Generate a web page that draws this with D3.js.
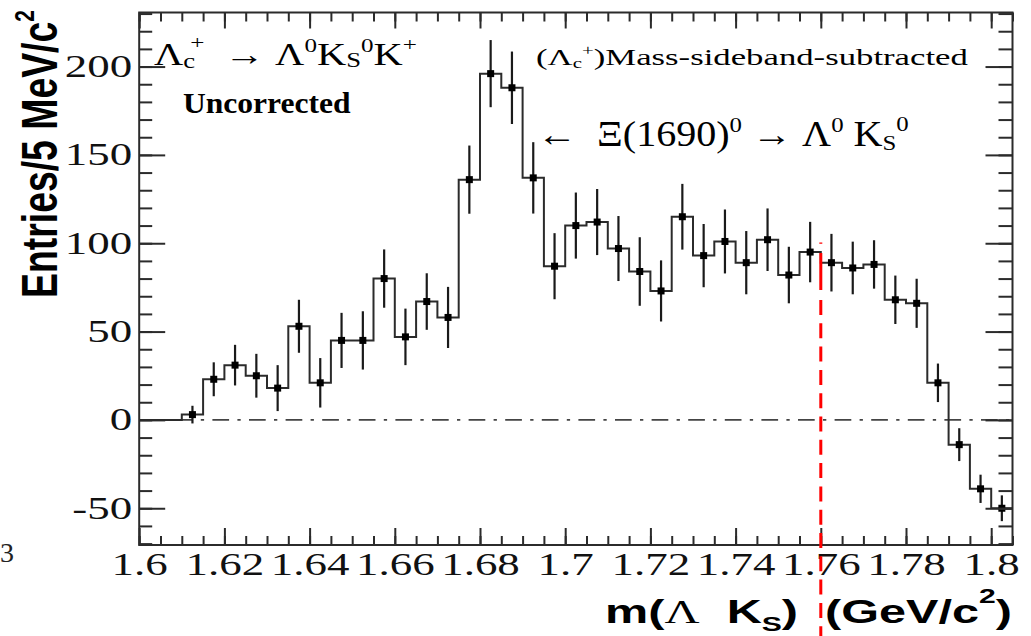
<!DOCTYPE html>
<html>
<head>
<meta charset="utf-8">
<script src="https://cdn.jsdelivr.net/npm/d3@7"></script>
<style>
  html, body { margin: 0; padding: 0; background: #fff; }
  svg { display: block; }
  text { white-space: pre; }
</style>
</head>
<body>
<svg id="chart" width="1031" height="636"></svg>
<script>
// Λc+ → Λ0 KS0 K+ : m(Λ KS) after Λc+ mass-sideband subtraction, 5 MeV/c² bins

// bin centres (GeV/c²)
const massBins = [
  1.6125, 1.6175, 1.6225, 1.6275, 1.6325, 1.6375, 1.6425, 1.6475, 1.6525, 1.6575,
  1.6625, 1.6675, 1.6725, 1.6775, 1.6825, 1.6875, 1.6925, 1.6975, 1.7025, 1.7075,
  1.7125, 1.7175, 1.7225, 1.7275, 1.7325, 1.7375, 1.7425, 1.7475, 1.7525, 1.7575,
  1.7625, 1.7675, 1.7725, 1.7775, 1.7825, 1.7875, 1.7925, 1.7975, 1.8025
];
// entries per bin
const entries = [
  3, 23, 31, 25, 18, 53, 21, 45, 45, 80,
  47, 67, 58, 136, 196, 188, 137, 87, 110, 112,
  97, 84, 73, 115, 93, 101, 89, 102, 82, 95,
  89, 86, 88, 68, 66, 21, -14, -39, -50
];
// statistical errors per bin
const entryErrors = [
  5, 9.6, 11.5, 12.4, 13, 15, 14, 15.6, 16.5, 16.5,
  16, 16, 17.3, 19.3, 19, 20.5, 20.2, 18.7, 18.7, 18.7,
  18.4, 19.4, 17.3, 18.6, 17.9, 18.1, 17.9, 17.7, 16, 17.1,
  16.3, 14.9, 13.7, 13.7, 13.9, 10.9, 9.3, 8, 7.3
];
const binWidth = 0.005;
const massDomain = [1.6, 1.805];
const entriesDomain = [-70.8, 230.6];
const cutMass = 1.76;

const xTickValues = [1.6, 1.62, 1.64, 1.66, 1.68, 1.7, 1.72, 1.74, 1.76, 1.78, 1.8];
const xTickLabels = ["1.6", "1.62", "1.64", "1.66", "1.68", "1.7", "1.72", "1.74", "1.76", "1.78", "1.8"];
const yTickValues = [-50, 0, 50, 100, 150, 200];
const yTickLabels = ["-50", "0", "50", "100", "150", "200"];

const svg = d3.select("#chart");
const frame = { left: 139.2, right: 1012.5, top: 12.5, bottom: 545 };

const x = d3.scaleLinear().domain(massDomain).range([frame.left, frame.right]);
const y = d3.scaleLinear().domain(entriesDomain).range([frame.bottom, frame.top]);

const SERIF = "'Liberation Serif', 'Times New Roman', serif";
const SANS = "'Liberation Sans', Arial, Helvetica, sans-serif";
const INK = "#2b2b2b";
const SP = "\u00a0";

// stretch a text horizontally so that it spans `width` starting at `left`
function stretchTo(sel, left, width) {
  const w = sel.node().getBBox().width;
  const s = width / w;
  sel.attr("transform", `translate(${left},0) scale(${s},1) translate(${-left},0)`);
}

// text with sub/superscript runs
function richText(textSel, parts, size) {
  let shift = 0;
  parts.forEach(p => {
    const kind = p.k || "n";
    const fs = kind === "n" ? size : size * (p.scale || 0.62);
    const target = kind === "sup" ? -size * (p.up || 0.42) : kind === "sub" ? size * (p.down || 0.2) : 0;
    const ts = textSel.append("tspan")
      .attr("dy", target - shift)
      .attr("font-size", fs)
      .text(p.t);
    if (p.dx) ts.attr("dx", p.dx);
    if (p.family) ts.attr("font-family", p.family);
    if (p.weight) ts.attr("font-weight", p.weight);
    shift = target;
  });
}

// zero reference line
svg.append("line")
  .attr("x1", frame.left).attr("x2", frame.right)
  .attr("y1", y(0)).attr("y2", y(0))
  .attr("stroke", "#444").attr("stroke-width", 1.6)
  .attr("stroke-dasharray", "16.7,8.3,3.3,8.3");

// histogram outline
const stepPoints = [[massDomain[0], 0]]
  .concat(massBins.map((m, i) => [m - binWidth / 2, entries[i]]))
  .concat([[massBins[massBins.length - 1] + binWidth / 2, entries[entries.length - 1]]]);
svg.append("path")
  .datum(stepPoints)
  .attr("fill", "none")
  .attr("stroke", INK)
  .attr("stroke-width", 2)
  .attr("d", d3.line().x(d => x(d[0])).y(d => y(d[1])).curve(d3.curveStepAfter));

// error bars
svg.append("g").selectAll("line")
  .data(massBins)
  .join("line")
  .attr("x1", d => x(d)).attr("x2", d => x(d))
  .attr("y1", (d, i) => y(entries[i] - entryErrors[i]))
  .attr("y2", (d, i) => y(entries[i] + entryErrors[i]))
  .attr("stroke", "#1a1a1a").attr("stroke-width", 2.2);

// markers
const ms = 7;
svg.append("g").selectAll("rect")
  .data(massBins)
  .join("rect")
  .attr("x", d => x(d) - ms / 2)
  .attr("y", (d, i) => y(entries[i]) - ms / 2)
  .attr("width", ms).attr("height", ms)
  .attr("fill", "#000");

// frame
svg.append("rect")
  .attr("x", frame.left).attr("y", frame.top)
  .attr("width", frame.right - frame.left).attr("height", frame.bottom - frame.top)
  .attr("fill", "none").attr("stroke", INK).attr("stroke-width", 2);

// ticks
const xMinor = d3.range(0, 42).map(i => +(massDomain[0] + i * binWidth).toFixed(3)).filter(v => v <= massDomain[1] + 1e-9);
const yMinor = d3.range(-70, 231, 10);

function styleAxis(g) {
  g.select(".domain").remove();
  g.selectAll(".tick line").attr("stroke", INK).attr("stroke-width", 2);
}

// bottom
svg.append("g").attr("transform", `translate(0,${frame.bottom})`)
  .call(d3.axisBottom(x).tickValues(xMinor).tickSize(-9).tickFormat(""))
  .call(styleAxis);
const xAxisG = svg.append("g").attr("transform", `translate(0,${frame.bottom})`)
  .call(d3.axisBottom(x).tickValues(xTickValues).tickSize(-17).tickPadding(8)
    .tickFormat((d, i) => xTickLabels[i]))
  .call(styleAxis);
xAxisG.selectAll(".tick text")
  .attr("font-family", SERIF).attr("font-size", 31).attr("fill", "#111")
  .attr("transform", "scale(1.45,1)");

// top
svg.append("g").attr("transform", `translate(0,${frame.top})`)
  .call(d3.axisTop(x).tickValues(xMinor).tickSize(-9).tickFormat(""))
  .call(styleAxis);
svg.append("g").attr("transform", `translate(0,${frame.top})`)
  .call(d3.axisTop(x).tickValues(xTickValues).tickSize(-16).tickFormat(""))
  .call(styleAxis);

// left
svg.append("g").attr("transform", `translate(${frame.left},0)`)
  .call(d3.axisLeft(y).tickValues(yMinor).tickSize(-13).tickFormat(""))
  .call(styleAxis);
const yAxisG = svg.append("g").attr("transform", `translate(${frame.left},0)`)
  .call(d3.axisLeft(y).tickValues(yTickValues).tickSize(-26).tickPadding(4.8)
    .tickFormat((d, i) => yTickLabels[i]))
  .call(styleAxis);
yAxisG.selectAll(".tick text")
  .attr("font-family", SERIF).attr("font-size", 31).attr("fill", "#111")
  .attr("transform", "scale(1.45,1)");

// right
svg.append("g").attr("transform", `translate(${frame.right},0)`)
  .call(d3.axisRight(y).tickValues(yMinor).tickSize(-14).tickFormat(""))
  .call(styleAxis);
svg.append("g").attr("transform", `translate(${frame.right},0)`)
  .call(d3.axisRight(y).tickValues(yTickValues).tickSize(-27).tickFormat(""))
  .call(styleAxis);

// mass cut marker
svg.append("line")
  .attr("x1", x(cutMass)).attr("x2", x(cutMass))
  .attr("y1", 242.5).attr("y2", 290)
  .attr("stroke", "#ff0000").attr("stroke-width", 3)
  .attr("stroke-dasharray", "1.2,9.3,37.5");
svg.append("line")
  .attr("x1", x(cutMass)).attr("x2", x(cutMass))
  .attr("y1", 300).attr("y2", 640)
  .attr("stroke", "#ff0000").attr("stroke-width", 3)
  .attr("stroke-dasharray", "15,8.3");

// decay channel
const decay = svg.append("text")
  .attr("x", 154).attr("y", 65)
  .attr("font-family", SERIF).attr("font-size", 32).attr("fill", "#000");
richText(decay, [
  { t: "Λ" }, { t: "c", k: "sub", down: 0.1, scale: 0.66 }, { t: "+", k: "sup", dx: -4, up: 0.5 },
  { t: SP + SP + "→" + SP + "Λ" }, { t: "0", k: "sup", up: 0.42 }, { t: "K" }, { t: "S", k: "sub", down: 0.05, scale: 0.66 },
  { t: "0", k: "sup", up: 0.42 }, { t: "K" }, { t: "+", k: "sup", up: 0.45 }
], 32);
stretchTo(decay, 154, 263);

const uncorr = svg.append("text")
  .attr("x", 183).attr("y", 113)
  .attr("font-family", SERIF).attr("font-weight", "bold").attr("font-size", 30)
  .attr("fill", "#000").text("Uncorrected");
stretchTo(uncorr, 183, 168);

const sideband = svg.append("text")
  .attr("x", 536).attr("y", 65)
  .attr("font-family", SERIF).attr("font-size", 24).attr("fill", "#000");
richText(sideband, [
  { t: "(Λ" }, { t: "c", k: "sub", down: 0.12, scale: 0.6 }, { t: "+", k: "sup", up: 0.4, scale: 0.6 },
  { t: ")Mass-sideband-subtracted" }
], 24);
stretchTo(sideband, 536, 432);

const xi = svg.append("text")
  .attr("x", 537).attr("y", 146)
  .attr("font-family", SERIF).attr("font-size", 35).attr("fill", "#000");
richText(xi, [
  { t: "←" + SP + SP + "Ξ(1690)" }, { t: "0", k: "sup", up: 0.4 }, { t: SP + "→" + SP + "Λ" }, { t: "0", k: "sup", up: 0.4 },
  { t: SP + "K" }, { t: "S", k: "sub", down: 0.12 }, { t: "0", k: "sup", up: 0.42 }
], 35);
stretchTo(xi, 537, 372);

// axis titles
const xTitle = svg.append("text")
  .attr("x", 605).attr("y", 623)
  .attr("font-family", SANS).attr("font-weight", "bold").attr("font-size", 33).attr("fill", "#000");
richText(xTitle, [
  { t: "m(" }, { t: "Λ", family: SERIF, weight: "normal" }, { t: SP + SP + "K" },
  { t: "S", k: "sub", down: 0.25, scale: 0.62 }, { t: ")" + SP + SP + "(GeV/c" },
  { t: "2", k: "sup", up: 0.62, scale: 0.62 }, { t: ")" }
], 33);
stretchTo(xTitle, 605, 407);

const yTitle = svg.append("text")
  .attr("x", 0).attr("y", 0)
  .attr("font-family", SANS).attr("font-weight", "bold").attr("font-size", 36).attr("fill", "#000");
richText(yTitle, [
  { t: "Entries/5" + SP + "MeV/c" }, { t: "2", k: "sup", up: 0.45, scale: 0.56 }
], 36);
{
  const w = yTitle.node().getBBox().width;
  yTitle.attr("transform", `translate(56.5,298) rotate(-90) scale(${288 / w},1.4)`);
}

// clipped label at the lower-left edge
svg.append("text")
  .attr("x", 14).attr("y", 562)
  .attr("text-anchor", "end")
  .attr("font-family", SERIF).attr("font-size", 28).attr("fill", "#222")
  .text("83");
</script>
</body>
</html>
